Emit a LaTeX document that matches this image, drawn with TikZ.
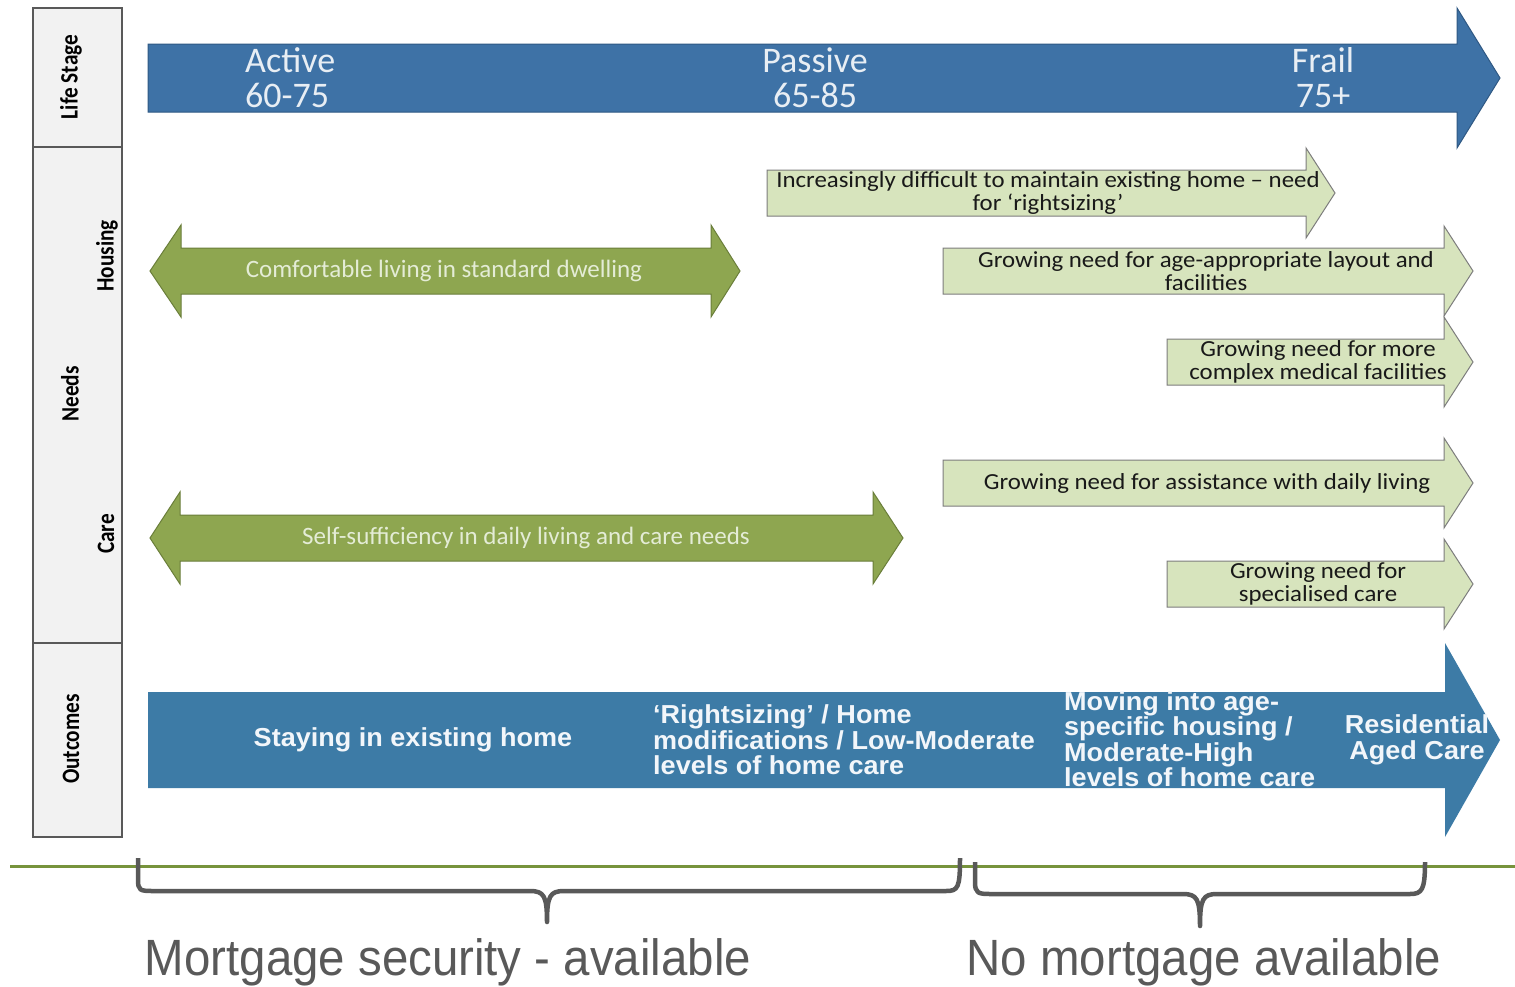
\documentclass[tikz,border=0pt]{standalone}
\usepackage{fontspec}
\setmainfont{Carlito}
\newfontfamily\arialfont{Liberation Sans}
\newfontfamily\widearial[FakeStretch=1.04]{Liberation Sans}
\newfontfamily\narrowarial[FakeStretch=0.93]{Liberation Sans}
\newfontfamily\widecalibri[FakeStretch=1.08]{Carlito}
\newfontfamily\tallcalibri[FakeStretch=0.85]{Carlito}
\usepackage{tikz}

\definecolor{stageblue}{RGB}{62,114,166}
\definecolor{stageedge}{RGB}{47,88,131}
\definecolor{outblue}{RGB}{61,123,166}
\definecolor{needpale}{RGB}{215,228,189}
\definecolor{neededge}{RGB}{125,125,125}
\definecolor{olivefill}{RGB}{142,166,80}
\definecolor{oliveedge}{RGB}{106,126,58}
\definecolor{olivetext}{RGB}{228,236,214}
\definecolor{rulegreen}{RGB}{119,147,60}
\definecolor{bracegrey}{RGB}{89,89,89}
\definecolor{panelgrey}{RGB}{242,242,242}

% right-pointing block arrow: style, tail x, head base x, tip x, mid y, half shaft, half head
\newcommand{\blockarrow}[7]{%
  \draw[#1] (#2,{#5-#6}) -- (#3,{#5-#6}) -- (#3,{#5-#7}) -- (#4,#5)
    -- (#3,{#5+#7}) -- (#3,{#5+#6}) -- (#2,{#5+#6}) -- cycle;}
% two-headed block arrow: style, left tip, left base, right base, right tip, mid y, half shaft, half head
\newcommand{\twowayarrow}[8]{%
  \draw[#1] (#2,#6) -- (#3,{#6-#8}) -- (#3,{#6-#7}) -- (#4,{#6-#7}) -- (#4,{#6-#8}) -- (#5,#6)
    -- (#4,{#6+#8}) -- (#4,{#6+#7}) -- (#3,{#6+#7}) -- (#3,{#6+#8}) -- cycle;}

\begin{document}
\begin{tikzpicture}[
    x=1pt, y=-1pt,
    stagearrow/.style={fill=stageblue, draw=stageedge, line width=1pt},
    outarrow/.style={fill=outblue, draw=none},
    needarrow/.style={fill=needpale, draw=neededge, line width=1pt},
    olivearrow/.style={fill=olivefill, draw=oliveedge, line width=1pt},
    cellbox/.style={fill=panelgrey, draw=bracegrey, line width=1.2pt},
    celltxt/.style={rotate=90, inner sep=0pt, font=\tallcalibri\bfseries\fontsize{25}{27}\selectfont},
    stagetxt/.style={text={rgb,255:red,232;green,238;blue,244}, inner sep=0pt, font=\fontsize{36}{35}\selectfont},
    outtxt/.style={text={rgb,255:red,242;green,246;blue,250}, inner sep=0pt, align=left, font=\widearial\bfseries\fontsize{26}{25.5}\selectfont},
    needtxt/.style={text=black!90, inner sep=0pt, align=center, font=\widecalibri\fontsize{23}{23}\selectfont},
    olivetxt/.style={text=olivetext, inner sep=0pt, font=\fontsize{25}{27}\selectfont},
    curly/.style={draw=bracegrey, line width=4.5pt, line join=round},
    verdict/.style={text=bracegrey, inner sep=0pt, font=\narrowarial\fontsize{51}{54}\selectfont}]

    \useasboundingbox (0,0) rectangle (1515,986);
    \fill[white] (0,0) rectangle (1515,986);

    %%% side panel
    \draw[cellbox] (33,8) rectangle (122,147);
    \draw[cellbox] (33,147) rectangle (122,643);
    \draw[cellbox] (33,643) rectangle (122,837);
    \node[celltxt] (lifestage) at (71,77) {Life Stage};
    \node[celltxt] (housing) at (107,256) {Housing};
    \node[celltxt] (needs) at (70,394) {Needs};
    \node[celltxt] (care) at (106,534) {Care};
    \node[celltxt] (outcomes) at (71,739) {Outcomes};

    %%% life stage
    \blockarrow{stagearrow}{148}{1457}{1500}{78}{34}{70}
    \node[stagetxt, anchor=west, align=left] (active) at (245,78) {Active\\60-75};
    \node[stagetxt, align=center] (passive) at (815,78) {Passive\\65-85};
    \node[stagetxt, align=center] (frail) at (1323,78) {Frail\\75+};

    %%% housing needs
    \twowayarrow{olivearrow}{150}{181}{711}{740}{271}{23}{46}
    \node[olivetxt] (dwelling) at (444,271) {Comfortable living in standard dwelling};

    \blockarrow{needarrow}{767}{1306}{1335}{193}{23}{45}
    \node[needtxt] (rightsize) at (1048,193) {Increasingly difficult to maintain existing home – need\\for ‘rightsizing’};
    \blockarrow{needarrow}{943}{1444}{1473}{271}{23}{45}
    \node[needtxt] (layout) at (1206,271) {Growing need for age-appropriate layout and\\facilities};
    \blockarrow{needarrow}{1167}{1444}{1473}{362}{23}{45}
    \node[needtxt] (medical) at (1318,362) {Growing need for more\\complex medical facilities};

    %%% care needs
    \twowayarrow{olivearrow}{150}{180}{873}{903}{538}{23}{46}
    \node[olivetxt] (selfsuff) at (526,538) {Self-sufficiency in daily living and care needs};

    \blockarrow{needarrow}{943}{1444}{1473}{483}{23}{45}
    \node[needtxt] (assist) at (1207,483) {Growing need for assistance with daily living};
    \blockarrow{needarrow}{1167}{1444}{1473}{584}{23}{45}
    \node[needtxt] (special) at (1318,584) {Growing need for\\specialised care};

    %%% outcomes
    \blockarrow{outarrow}{148}{1445}{1500}{740}{48}{97}
    \node[outtxt] (staying) at (413,740) {Staying in existing home};
    \node[outtxt, anchor=west] (homemods) at (653,740) {‘Rightsizing’ / Home\\modifications / Low-Moderate\\levels of home care};
    \node[outtxt, anchor=west] (agespecific) at (1064,739) {Moving into age-\\specific housing /\\Moderate-High\\levels of home care};
    \node[outtxt, align=center] (residential) at (1417,740) {Residential\\Aged Care};

    %%% mortgage split
    \draw[rulegreen, line width=3pt] (10,866) -- (1515,866);
    \draw[curly] (138,858) -- (138,880) .. controls (138,890) and (140,891) .. (152,891)
      -- (530,891) .. controls (544,891) and (547,896) .. (547,922)
      .. controls (547,896) and (550,891) .. (564,891)
      -- (946,891) .. controls (958,891) and (960,888) .. (960,858);
    \draw[curly] (975,862) -- (975,882) .. controls (975,893) and (978,894) .. (990,894)
      -- (1183,894) .. controls (1197,894) and (1200,899) .. (1200,926)
      .. controls (1200,899) and (1203,894) .. (1217,894)
      -- (1410,894) .. controls (1422,894) and (1425,890) .. (1425,862);
    \node[verdict] (withloan) at (448,962) {Mortgage security - available};
    \node[verdict] (noloan) at (1204,962) {No mortgage available};

\end{tikzpicture}
\end{document}
